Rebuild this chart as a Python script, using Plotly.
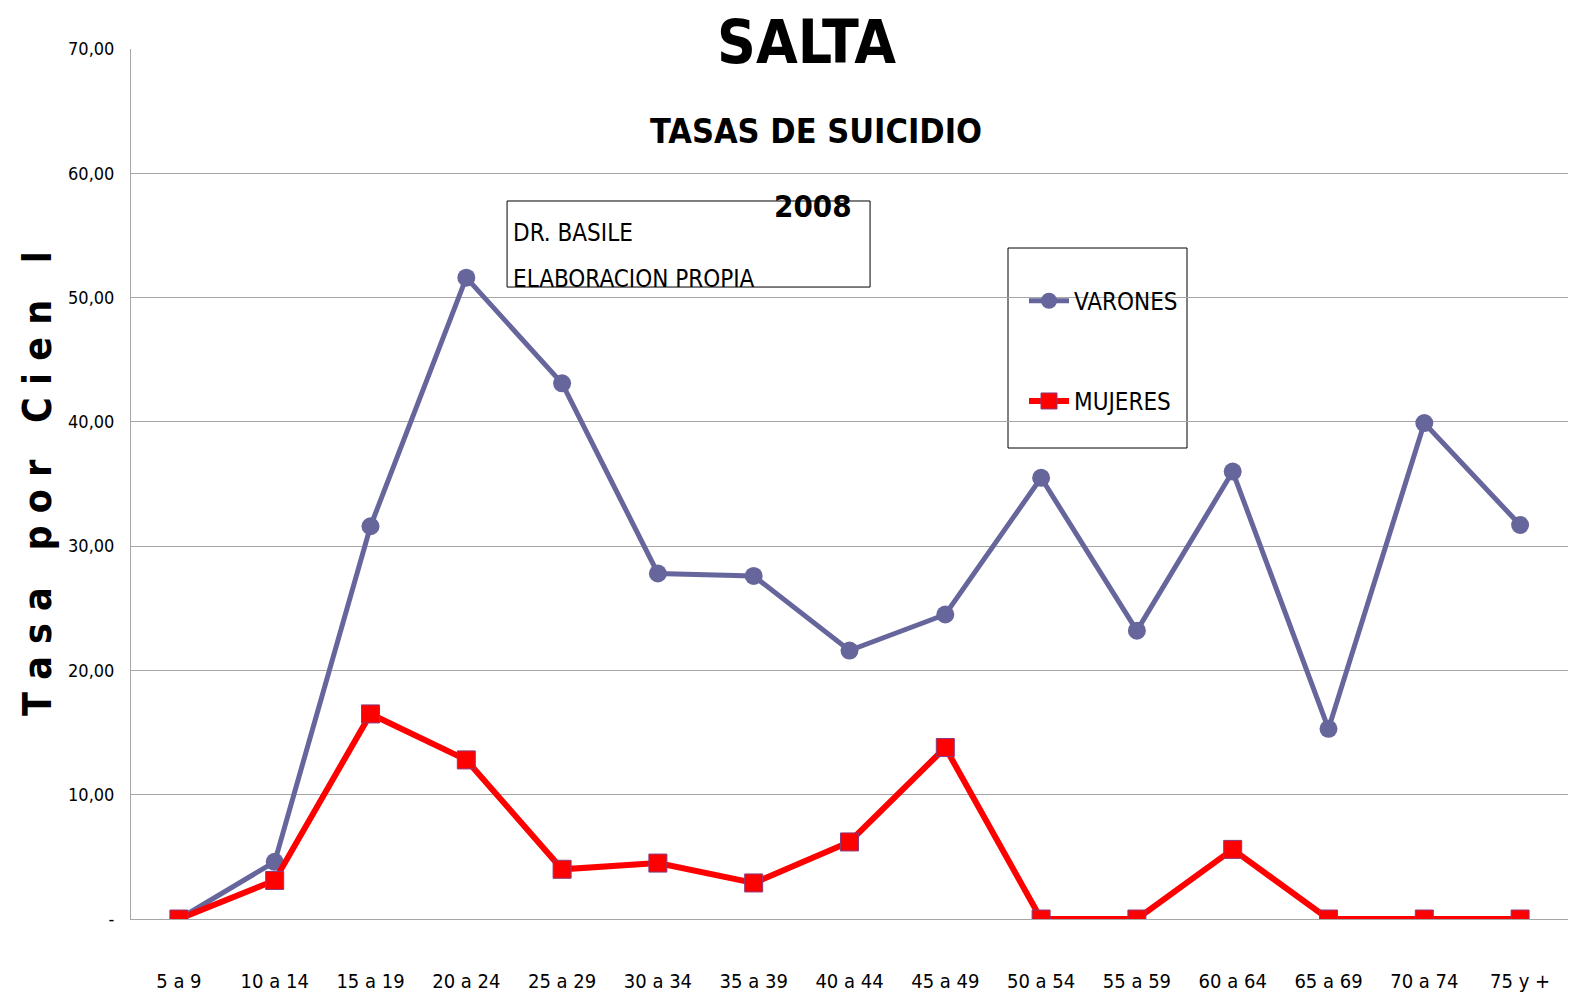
import plotly.graph_objects as go

categories = ["5 a 9", "10 a 14", "15 a 19", "20 a 24", "25 a 29", "30 a 34", "35 a 39",
              "40 a 44", "45 a 49", "50 a 54", "55 a 59", "60 a 64", "65 a 69", "70 a 74", "75 y +"]
varones = [0.0, 4.6, 31.6, 51.6, 43.1, 27.8, 27.6, 21.6, 24.5, 35.5, 23.2, 36.0, 15.3, 39.9, 31.7]
mujeres = [0.0, 3.1, 16.5, 12.8, 4.0, 4.5, 2.9, 6.2, 13.8, 0.0, 0.0, 5.6, 0.0, 0.0, 0.0]
y_ticks = [0, 10, 20, 30, 40, 50, 60, 70]
y_tick_labels = ["-", "10,00", "20,00", "30,00", "40,00", "50,00", "60,00", "70,00"]

FONT = "DejaVu Sans Condensed, Roboto, sans-serif"
x = list(range(len(categories)))

fig = go.Figure()
fig.add_trace(go.Scatter(
    x=x, y=varones, name="VARONES", mode="lines+markers",
    line=dict(color="#66669C", width=5),
    marker=dict(symbol="circle", size=18, color="#66669C"),
    legendgroup="v",
))
fig.add_trace(go.Scatter(
    x=x, y=mujeres, name="MUJERES", mode="lines+markers",
    line=dict(color="#FF0000", width=6),
    marker=dict(symbol="square", size=18, color="#FF0000", line=dict(color="#8B3A7A", width=1)),
    legendgroup="m",
))

fig.update_layout(
    width=1579, height=1002,
    margin=dict(l=131, r=11, t=49, b=83),
    paper_bgcolor="white", plot_bgcolor="white",
    font=dict(family=FONT, color="black"),
    showlegend=True,
    legend=dict(
        x=(1024 - 131) / 1437, y=0.736, xanchor="left", yanchor="top",
        borderwidth=0, bgcolor="rgba(0,0,0,0)",
        font=dict(family=FONT, size=24, color="black"),
        traceorder="grouped", tracegroupgap=66,
        itemwidth=40,
    ),
    xaxis=dict(
        tickmode="array", tickvals=x, ticktext=categories,
        range=[-0.5, 14.5], showgrid=False, zeroline=False,
        showline=True, linecolor="#A6A6A6", linewidth=1,
        ticks="", tickfont=dict(family=FONT, size=20, color="black"),
        ticklabelstandoff=44, automargin=False,
    ),
    yaxis=dict(
        range=[0, 70], tickmode="array", tickvals=y_ticks, ticktext=y_tick_labels,
        showgrid=True, gridcolor="#A6A6A6", gridwidth=1, zeroline=False,
        showline=True, linecolor="#A6A6A6", linewidth=1,
        ticks="", tickfont=dict(family=FONT, size=18, color="black"),
        ticklabelstandoff=12, automargin=False,
    ),
)

# annotation box
fig.add_shape(type="rect", xref="paper", yref="paper",
              x0=0.2617, x1=0.5143, y0=0.7264, y1=0.8253,
              line=dict(color="black", width=1), fillcolor="white", layer="below")
# legend box
fig.add_shape(type="rect", xref="paper", yref="paper",
              x0=(1008 - 131) / 1437, x1=(1187 - 131) / 1437,
              y0=(919 - 448) / 870, y1=(919 - 248) / 870,
              line=dict(color="black", width=1), fillcolor="white", layer="below")

def ann(text, xp, yp, size, xanchor="center", angle=0):
    fig.add_annotation(text=text, xref="paper", yref="paper", x=xp, y=yp,
                       xanchor=xanchor, yanchor="middle", textangle=angle,
                       showarrow=False, font=dict(family=FONT, size=size, color="black"))

ann("<b>SALTA</b>", (806 - 131) / 1437, (919 - 42) / 870, 60)
ann("<b>TASAS DE SUICIDIO</b>", (816 - 131) / 1437, (919 - 131) / 870, 34)
ann("<b>2008</b>", (813 - 131) / 1437, (919 - 206) / 870, 31)
ann("DR. BASILE", (511 - 131) / 1437, (919 - 233) / 870, 24, xanchor="left")
ann("ELABORACION PROPIA", (511 - 131) / 1437, (919 - 279) / 870, 24, xanchor="left")
ann("<b>T a s a   p o r   C i e n   l</b>", (37 - 131) / 1437, (919 - 484) / 870, 39, angle=-90)

fig.write_html("out.html", config={"displayModeBar": False},
               post_script="document.body.style.margin='0';")
